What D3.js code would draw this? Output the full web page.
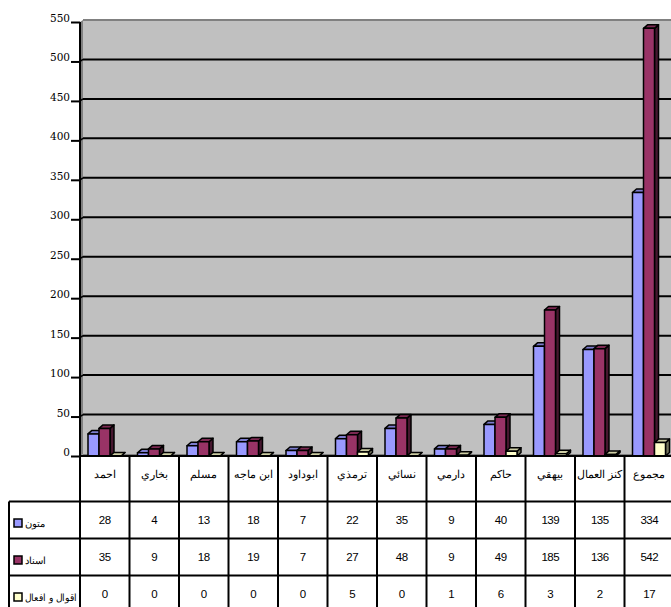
<!DOCTYPE html>
<html><head><meta charset="utf-8">
<script src="https://cdn.jsdelivr.net/npm/d3@7"></script>
<style>html,body{margin:0;padding:0;background:#fff;overflow:hidden}</style>
</head><body><svg id="c" width="671" height="607"></svg>
<script>
const categories = ["احمد","بخاري","مسلم","ابن ماجه","ابوداود","ترمذي","نسائي","دارمي","حاكم","بيهقي","كنز العمال","مجموع"];
const seriesNames = ["متون","اسناد","اقوال و افعال"];
const seriesColors = ["#9999FF","#993366","#FFFFCC"];
const matoon = [28,4,13,18,7,22,35,9,40,139,135,334];
const isnad = [35,9,18,19,7,27,48,9,49,185,136,542];
const aqwal = [0,0,0,0,0,5,0,1,6,3,2,17];
const yTicks = [0,50,100,150,200,250,300,350,400,450,500,550];
const seriesValues = [matoon, isnad, aqwal];

const svg = d3.select("#c");
const axisX = 80, floorY = 456, topY = 22, wallOff = 3, dx = 4, dy = -3.5;
const y = d3.scaleLinear().domain([0,550]).range([floorY, topY]);
const x = d3.scaleBand().domain(categories).range([80, 674]).padding(0);
const xs = d3.scaleBand().domain(d3.range(3)).range([8, 41]).padding(0);

// back wall
svg.append("rect").attr("x", axisX+wallOff).attr("y", y(550)-2).attr("width", 700).attr("height", (floorY-2)-(y(550)-2)).attr("fill", "#C0C0C0");
svg.append("line").attr("x1", axisX+wallOff).attr("x2", 700).attr("y1", y(550)-2).attr("y2", y(550)-2).attr("stroke", "#808080").attr("stroke-width", 2);
svg.append("polygon").attr("points", `${axisX},${y(550)} ${axisX+wallOff},${y(550)-2} ${axisX+wallOff},${floorY-2} ${axisX},${floorY}`).attr("fill", "#808080");
svg.append("polygon").attr("points", `${axisX},${floorY} ${axisX+wallOff},${floorY-2} 700,${floorY-2} 700,${floorY}`).attr("fill", "#808080");
// gridlines
svg.append("g").selectAll("line").data(yTicks.filter(d=>d>0 && d<550)).join("line")
  .attr("x1", axisX+wallOff).attr("x2", 700)
  .attr("y1", d=>y(d)-2).attr("y2", d=>y(d)-2)
  .attr("stroke", "#000").attr("stroke-width", 2);
svg.append("g").selectAll("line").data(yTicks.filter(d=>d>0 && d<550)).join("line")
  .attr("x1", axisX).attr("x2", axisX+wallOff)
  .attr("y1", d=>y(d)).attr("y2", d=>y(d)-2)
  .attr("stroke", "#000").attr("stroke-width", 1.5);

// y axis
const yAxis = d3.axisLeft(y).tickValues(yTicks).tickSize(9).tickFormat(d3.format("d"));
const ga = svg.append("g").attr("transform", `translate(${axisX},0)`).call(yAxis);
ga.select(".domain").attr("stroke", "#000").attr("stroke-width", 2).attr("d", `M0,${y(550)}V${floorY}`);
ga.selectAll(".tick line").attr("stroke", "#000").attr("stroke-width", 2);
ga.selectAll(".tick text").attr("x", -10).attr("dy", "-0.05em")
  .attr("font-family", "DejaVu Serif").attr("font-size", "10.5px").attr("fill", "#000");

// bars
const bars = svg.append("g");
categories.forEach((cat, i) => {
  seriesValues.forEach((vals, j) => {
    const v = vals[i];
    const bx = x(cat) + xs(j), bw = xs.bandwidth(), by = y(v);
    const c = d3.color(seriesColors[j]);
    const g = bars.append("g").attr("stroke", "#000").attr("stroke-width", 1.5).attr("stroke-linejoin", "round");
    g.append("polygon").attr("points", `${bx+bw},${by} ${bx+bw+dx},${by+dy} ${bx+bw+dx},${floorY+dy} ${bx+bw},${floorY}`)
      .attr("fill", c.darker(2.2));
    g.append("polygon").attr("points", `${bx},${by} ${bx+dx},${by+dy} ${bx+bw+dx},${by+dy} ${bx+bw},${by}`)
      .attr("fill", c.darker(0.6));
    g.append("rect").attr("x", bx).attr("y", by).attr("width", bw).attr("height", floorY-by).attr("fill", c);
  });
});
svg.append("line").attr("x1", axisX).attr("x2", 700).attr("y1", floorY).attr("y2", floorY).attr("stroke", "#000").attr("stroke-width", 2);

// data table
const rowY = [501.5, 538.5, 575.5, 612.5];
const tbl = svg.append("g").attr("stroke", "#000").attr("stroke-width", 2);
d3.range(categories.length+1).forEach(k => {
  const xx = 80 + k*x.bandwidth();
  tbl.append("line").attr("x1", xx).attr("x2", xx).attr("y1", floorY).attr("y2", 612);
});
rowY.forEach(ry => tbl.append("line").attr("x1", 9).attr("x2", 700).attr("y1", ry).attr("y2", ry));
tbl.append("line").attr("x1", 9).attr("x2", 9).attr("y1", rowY[0]).attr("y2", 612);

svg.append("g").selectAll("text").data(categories).join("text")
  .attr("x", d=>x(d)+x.bandwidth()/2).attr("y", 478)
  .attr("text-anchor", "middle").attr("font-family", "Liberation Sans, Arial").attr("font-size", "10.5px")
  .text(d=>d);

seriesValues.forEach((vals, j) => {
  const cy = (rowY[j] + rowY[j+1]) / 2;
  svg.append("g").selectAll("text").data(vals).join("text")
    .attr("x", (d,i)=>x(categories[i])+x.bandwidth()/2).attr("y", cy+4)
    .attr("text-anchor", "middle").attr("font-family", "Liberation Sans, Arial").attr("font-size", "11.5px")
    .attr("letter-spacing", "-0.5px")
    .text(d=>d);
  svg.append("rect").attr("x", 14).attr("y", cy-1).attr("width", 8).attr("height", 8)
    .attr("fill", seriesColors[j]).attr("stroke", "#000").attr("stroke-width", 1.5);
  const t = svg.append("text").attr("x", 50).attr("y", cy+7).attr("font-family", "Liberation Sans, Arial").attr("font-size", "10px")
    .attr("text-anchor", "middle").text(seriesNames[j]);
  let bb = t.node().getBBox();
  if (bb.width > 52) {
    t.attr("textLength", 52).attr("lengthAdjust", "spacingAndGlyphs");
    bb = t.node().getBBox();
  }
  t.attr("x", 50 + (25 - bb.x));
});
</script></body></html>
